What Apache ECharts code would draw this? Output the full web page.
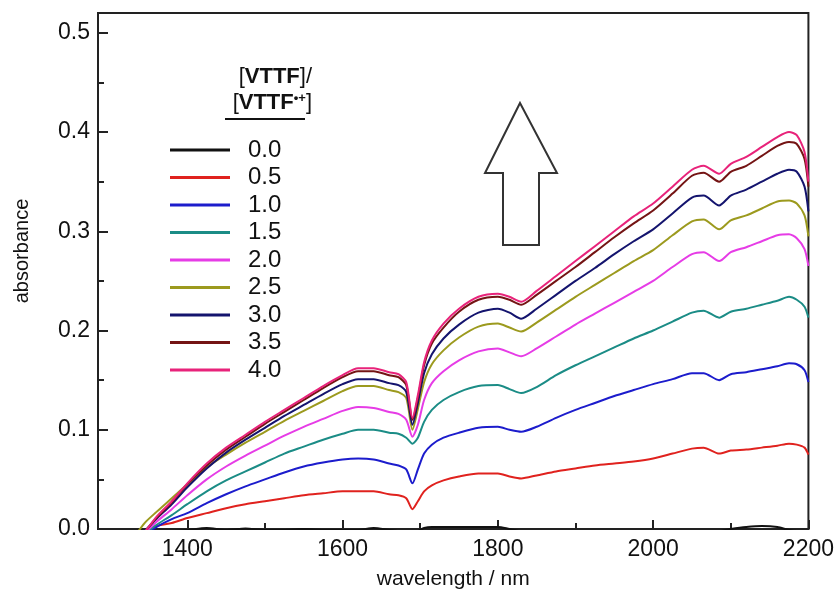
<!DOCTYPE html>
<html>
<head>
<meta charset="utf-8">
<script src="https://cdn.jsdelivr.net/npm/echarts@6/dist/echarts.min.js"></script>
<style>html,body{margin:0;padding:0;background:#fff}#c{width:837px;height:606px}</style>
</head>
<body>
<div id="c"></div>
<script>
// wavelength (nm)
const wavelength = [1330,1345,1360,1380,1400,1425,1450,1475,1500,1525,1550,1575,1600,1620,1640,1660,1672,1682,1690,1697,1705,1715,1730,1750,1775,1800,1815,1830,1850,1875,1900,1925,1950,1975,2000,2025,2050,2065,2085,2100,2120,2140,2160,2175,2185,2195,2200];

// absorbance per ratio [VTTF]/[VTTF•+]
const r00 = [-0.003,-0.003,-0.002,-0.002,-0.001,0.001,-0.001,0.0005,-0.001,-0.001,0.0,-0.001,-0.001,-0.001,0.001,-0.001,-0.002,-0.002,-0.003,-0.002,0.001,0.002,0.002,0.002,0.002,0.002,0.0,-0.002,-0.002,-0.002,-0.002,-0.002,-0.002,-0.002,-0.002,-0.002,-0.002,-0.002,-0.002,0.0,0.002,0.003,0.002,-0.001,-0.002,-0.002,-0.002];
const r05 = [-0.01,-0.003,0.003,0.006,0.011,0.016,0.021,0.025,0.028,0.031,0.034,0.036,0.038,0.038,0.038,0.035,0.034,0.031,0.02,0.028,0.038,0.044,0.049,0.053,0.056,0.056,0.053,0.051,0.054,0.058,0.061,0.064,0.066,0.068,0.071,0.076,0.081,0.082,0.076,0.079,0.08,0.082,0.084,0.086,0.085,0.082,0.075];
const r10 = [-0.012,-0.006,0.002,0.01,0.016,0.026,0.035,0.043,0.05,0.057,0.063,0.067,0.07,0.071,0.07,0.066,0.064,0.06,0.046,0.06,0.076,0.085,0.092,0.097,0.102,0.103,0.1,0.098,0.103,0.112,0.12,0.127,0.134,0.14,0.146,0.151,0.157,0.157,0.15,0.156,0.158,0.161,0.164,0.167,0.166,0.16,0.148];
const r15 = [-0.012,-0.005,0.004,0.014,0.025,0.038,0.049,0.058,0.067,0.076,0.083,0.09,0.096,0.1,0.1,0.097,0.096,0.092,0.086,0.092,0.108,0.12,0.13,0.138,0.144,0.145,0.141,0.137,0.143,0.155,0.165,0.174,0.183,0.192,0.2,0.209,0.218,0.22,0.213,0.219,0.222,0.226,0.23,0.234,0.231,0.224,0.213];
const r20 = [-0.012,-0.004,0.007,0.02,0.034,0.05,0.063,0.074,0.084,0.094,0.103,0.111,0.119,0.123,0.122,0.118,0.116,0.11,0.093,0.105,0.13,0.147,0.159,0.17,0.179,0.182,0.178,0.174,0.182,0.194,0.206,0.217,0.228,0.239,0.25,0.264,0.277,0.279,0.27,0.279,0.284,0.29,0.296,0.297,0.293,0.282,0.265];
const r25 = [-0.01,0.006,0.017,0.031,0.045,0.062,0.075,0.087,0.098,0.109,0.119,0.129,0.139,0.144,0.144,0.14,0.138,0.132,0.1,0.121,0.148,0.166,0.18,0.193,0.204,0.207,0.203,0.199,0.208,0.221,0.234,0.246,0.258,0.27,0.281,0.296,0.31,0.312,0.302,0.311,0.316,0.323,0.33,0.331,0.328,0.316,0.295];
const r30 = [-0.012,-0.002,0.01,0.025,0.042,0.061,0.077,0.09,0.102,0.114,0.125,0.136,0.146,0.151,0.151,0.147,0.145,0.138,0.105,0.127,0.157,0.176,0.192,0.206,0.218,0.222,0.218,0.212,0.222,0.236,0.25,0.263,0.277,0.29,0.302,0.318,0.334,0.336,0.326,0.336,0.342,0.35,0.358,0.362,0.36,0.345,0.32];
const r35 = [-0.012,-0.003,0.011,0.027,0.045,0.064,0.08,0.093,0.106,0.118,0.13,0.142,0.153,0.159,0.159,0.155,0.153,0.145,0.11,0.132,0.165,0.187,0.203,0.219,0.231,0.234,0.231,0.226,0.236,0.25,0.264,0.279,0.294,0.308,0.321,0.338,0.356,0.359,0.35,0.36,0.366,0.376,0.386,0.39,0.388,0.373,0.345];
const r40 = [-0.012,-0.003,0.012,0.028,0.046,0.066,0.082,0.095,0.108,0.12,0.132,0.144,0.155,0.162,0.162,0.158,0.156,0.148,0.112,0.135,0.168,0.19,0.207,0.222,0.234,0.237,0.234,0.229,0.24,0.255,0.27,0.285,0.3,0.315,0.328,0.345,0.362,0.366,0.358,0.368,0.375,0.385,0.395,0.4,0.397,0.38,0.35];

const seriesNames = ['0.0','0.5','1.0','1.5','2.0','2.5','3.0','3.5','4.0'];
const seriesValues = [r00,r05,r10,r15,r20,r25,r30,r35,r40];
const seriesColors = ['#111111','#e0221e','#1c1ccc','#1b8c86','#e63ce6','#9c9a1e','#14146e','#741414','#e8237a'];

const xMajorTicks = [1400,1600,1800,2000,2200];
const xMinorTicks = [1500,1700,1900,2100];
const yMajorTicks = [0,0.1,0.2,0.3,0.4,0.5];
const yMinorTicks = [0.05,0.15,0.25,0.35,0.45];

const FONT = '"Liberation Sans", Arial, sans-serif';
const AX = '#222';

const chart = echarts.init(document.getElementById('c'), null, {renderer:'canvas'});

const series = seriesNames.map((n,k)=>({
  name:n, type:'line', xAxisIndex:0, yAxisIndex:0,
  showSymbol:false, symbol:'none', smooth:0.25, clip:true,
  lineStyle:{width:2, color:seriesColors[k]},
  itemStyle:{color:seriesColors[k]},
  data: wavelength.map((w,i)=>[w, seriesValues[k][i]])
}));

chart.setOption({
  animation:false,
  backgroundColor:'#fff',
  textStyle:{fontFamily:FONT},
  grid:{left:98, right:28, top:13, bottom:77, show:true, borderColor:AX, borderWidth:2, backgroundColor:'transparent'},
  xAxis:[{
    type:'value', min:1285, max:2200,
    axisLine:{lineStyle:{color:AX, width:2}},
    axisTick:{inside:true, length:9, customValues:xMajorTicks, lineStyle:{color:AX, width:2}},
    axisLabel:{customValues:xMajorTicks, fontSize:23, color:'#111', margin:9, fontFamily:FONT, formatter:v=>String(v)},
    splitLine:{show:false},
    name:'wavelength / nm', nameLocation:'middle', nameGap:40,
    nameTextStyle:{fontSize:21, color:'#111', fontFamily:FONT}
  },{
    type:'value', min:1285, max:2200, position:'bottom', gridIndex:0,
    axisLine:{show:false},
    axisTick:{inside:true, length:6, customValues:xMinorTicks, lineStyle:{color:AX, width:2}},
    axisLabel:{show:false}, splitLine:{show:false}
  }],
  yAxis:[{
    type:'value', min:0, max:0.52,
    axisLine:{show:true, lineStyle:{color:AX, width:2}},
    axisTick:{show:true, inside:true, length:10, customValues:yMajorTicks, lineStyle:{color:AX, width:2}},
    axisLabel:{customValues:yMajorTicks, fontSize:23, color:'#111', margin:8, fontFamily:FONT, formatter:v=>v.toFixed(1)},
    splitLine:{show:false},
    name:'absorbance', nameLocation:'middle', nameGap:66,
    nameTextStyle:{fontSize:20, color:'#111', fontFamily:FONT, padding:[0,0,0,40]}
  },{
    type:'value', min:0, max:0.52, position:'left', gridIndex:0,
    axisLine:{show:false},
    axisTick:{show:true, inside:true, length:6, customValues:yMinorTicks, lineStyle:{color:AX, width:2}},
    axisLabel:{show:false}, splitLine:{show:false}
  }],
  legend:{
    orient:'vertical', left:170, top:138, padding:0, icon:'rect', itemWidth:60, itemHeight:3,
    itemGap:3.5, data:seriesNames, selectedMode:false,
    textStyle:{fontSize:24, lineHeight:24, color:'#111', fontFamily:FONT, padding:[0,0,0,13]}
  },
  graphic:[
    {type:'text', x:312, y:77, style:{text:'[{b|VTTF}]/', align:'right', verticalAlign:'middle', fill:'#111', font:'22px '+FONT,
      rich:{b:{fontWeight:'bold', fontSize:22, fontFamily:FONT, fill:'#111'}}}},
    {type:'text', x:312, y:103, style:{text:'[{b|VTTF}{s|•+}]', align:'right', verticalAlign:'middle', fill:'#111', font:'22px '+FONT,
      rich:{b:{fontWeight:'bold', fontSize:22, fontFamily:FONT, fill:'#111'}, s:{fontSize:13, fontWeight:'bold', fontFamily:FONT, fill:'#111', verticalAlign:'top', padding:[0,0,10,0]}}}},
    {type:'line', shape:{x1:225, y1:119, x2:305, y2:119}, style:{stroke:'#111', lineWidth:2}},
    {type:'polygon', shape:{points:[[520,103],[557,173],[539,173],[539,245],[503,245],[503,173],[485,173]]},
      style:{fill:'#fff', stroke:'#333', lineWidth:2}}
  ],
  series: series
});
</script>
</body>
</html>
